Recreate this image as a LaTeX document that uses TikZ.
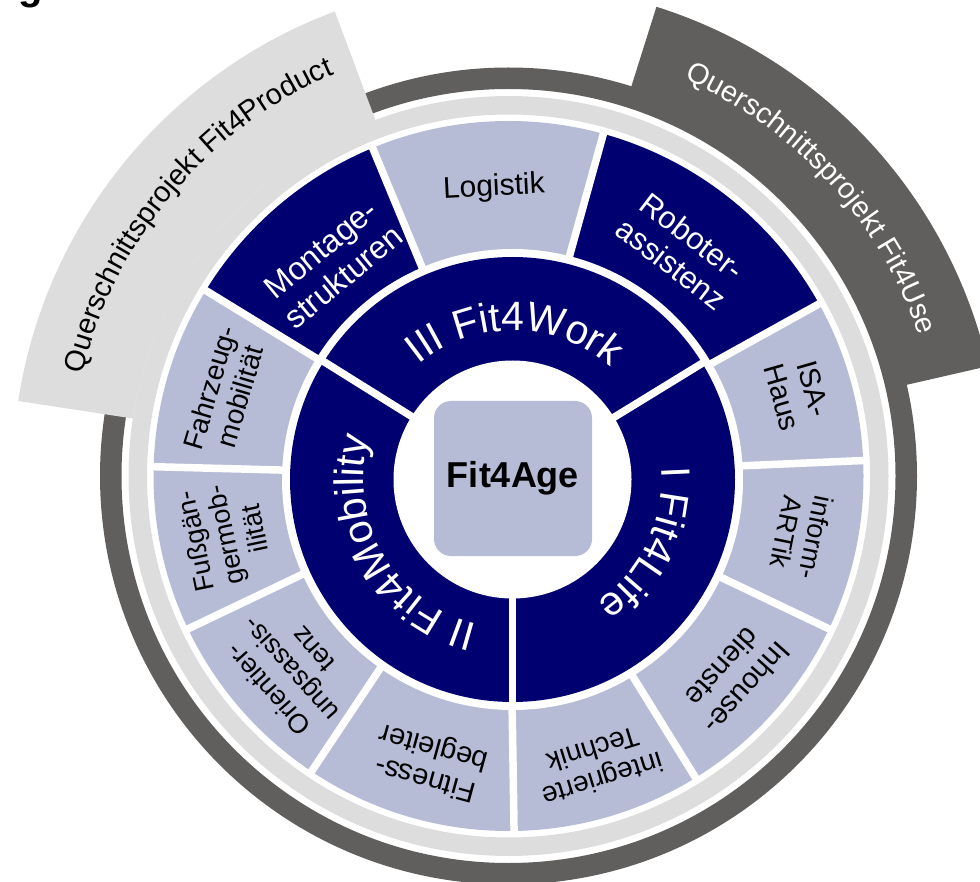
\documentclass[tikz,border=0pt]{standalone}
\usepackage{fontspec}
\setmainfont{Liberation Sans}
\usetikzlibrary{decorations.text}
\definecolor{navy}{RGB}{0,0,112}
\definecolor{lav}{RGB}{182,188,214}
\definecolor{lgray}{RGB}{221,221,221}
\definecolor{dgray}{RGB}{96,95,93}
\newcommand{\annsec}[5]{%
  \fill[#1] (#2:#4pt) arc[start angle=#2, end angle=#3, radius=#4pt]
    -- (#3:#5pt) arc[start angle=#3, end angle=#2, radius=#5pt] -- cycle;}
\newcommand{\ringfont}{\fontsize{41}{41}\selectfont}
\newcommand{\qfont}{\fontsize{29}{29}\selectfont}
\newcommand{\fsz}[1]{\fontsize{#1}{1.12\dimexpr #1pt\relax}\selectfont}
\tikzset{
  divider/.style={white, line width=7.5pt},
  seglabel/.style={align=center, inner sep=0pt},
}
\begin{document}
\begin{tikzpicture}[x=1pt,y=1pt]
\useasboundingbox (0,0) rectangle (980,-882);
\node[anchor=base west, font=\bfseries\fontsize{40}{40}\selectfont, inner sep=0pt] (gfrag) at (18,0.5) {g};
% ---------- outer group ----------
\begin{scope}[shift={(508.5,-476)}]
  \draw[dgray, line width=21.5pt] (0,0) circle[radius=397.75pt];
  \draw[lgray, line width=18.5pt] (0,0) circle[radius=370.75pt];
  \annsec{lgray}{110.5}{171.3}{380}{496}
  \annsec{dgray}{12.9}{72.5}{400}{492}
  \fill[lav] (0,0) circle[radius=355pt];
  \annsec{navy}{29}{74.5}{200}{355}
  \annsec{navy}{112.5}{148.5}{200}{355}
  \foreach \a in {112.5,74.5,29,2.5,-25.5,-58.2,270.9,236.3,205.5,178.5,148.5}
    \draw[divider] (\a:200pt) -- (\a:358pt);
  \path[decorate, decoration={text along path, text align=center,
     text={|\qfont|Querschnittsprojekt Fit4Product}}]
     (230:438pt) arc[start angle=230, end angle=50, radius=438pt];
  \path[decorate, decoration={text along path, text align=center,
     text={|\color{white}\qfont|Querschnittsprojekt Fit4Use}}]
     (132.5:434pt) arc[start angle=132.5, end angle=-47.5, radius=434pt];
  % segment labels
  \node[seglabel, rotate=2.9, font=\fsz{30}] (logistik) at (92.9:288.4pt) {Logistik};
  \node[seglabel, rotate=-37.5, text=white, font=\fsz{31}] (roboter) at (52.5:285pt) {Roboter-\\assistenz};
  \node[seglabel, rotate=39.6, text=white, font=\fsz{32}] (montage) at (129.6:276.6pt) {Montage-\\strukturen};
  \node[seglabel, rotate=73.5, font=\fsz{28}] (fahrzeug) at (163.5:296pt) {Fahrzeug-\\mobilität};
  \node[seglabel, rotate=101.8, font=\fsz{27}] (fuss) at (191.8:290pt) {Fußgän-\\germob-\\ilität};
  \node[seglabel, rotate=131.6, font=\fsz{27}] (orient) at (221.6:292pt) {Orientier-\\ungsassis-\\tenz};
  \node[seglabel, rotate=164.6, font=\fsz{29}] (fitness) at (254.6:296.6pt) {Fitness-\\begleiter};
  \node[seglabel, rotate=197.2, font=\fsz{28}] (integ) at (287.2:302.5pt) {integrierte\\Technik};
  \node[seglabel, rotate=228.3, font=\fsz{29}] (inhouse) at (318.3:303.5pt) {Inhouse-\\dienste};
  \node[seglabel, rotate=258.6, font=\fsz{27}] (inform) at (348.6:299pt) {inform-\\ARTik};
  \node[seglabel, rotate=-74, font=\fsz{29}] (isa) at (16:301pt) {ISA-\\Haus};
\end{scope}
% ---------- inner group ----------
\begin{scope}[shift={(512.5,-479.5)}]
  \fill[white] (0,0) circle[radius=230.5pt];
  \fill[navy] (0,0) circle[radius=222.5pt];
  \foreach \a in {31.5,148,270}
    \draw[divider] (\a:110pt) -- (\a:226pt);
  \fill[white] (0,0) circle[radius=119pt];
  \node[fill=lav, rounded corners=17pt, minimum width=158pt, minimum height=155pt,
        font=\bfseries\fontsize{36}{36}\selectfont, inner sep=0pt] (age) at (0.5,1) {Fit4Age};
  \path[decorate, decoration={text along path, text align=center,
     text={|\color{white}\ringfont|III Fit4Work}}]
     (179:149pt) arc[start angle=179, end angle=-1, radius=149pt];
  \path[decorate, decoration={text along path, text align=center,
     text={|\color{white}\ringfont|I Fit4Life}}]
     (64.5:149pt) arc[start angle=64.5, end angle=-115.5, radius=149pt];
  \path[decorate, decoration={text along path, text align=center,
     text={|\color{white}\ringfont|II Fit4Mobility}}]
     (300:149pt) arc[start angle=300, end angle=120, radius=149pt];
\end{scope}
\end{tikzpicture}
\end{document}
